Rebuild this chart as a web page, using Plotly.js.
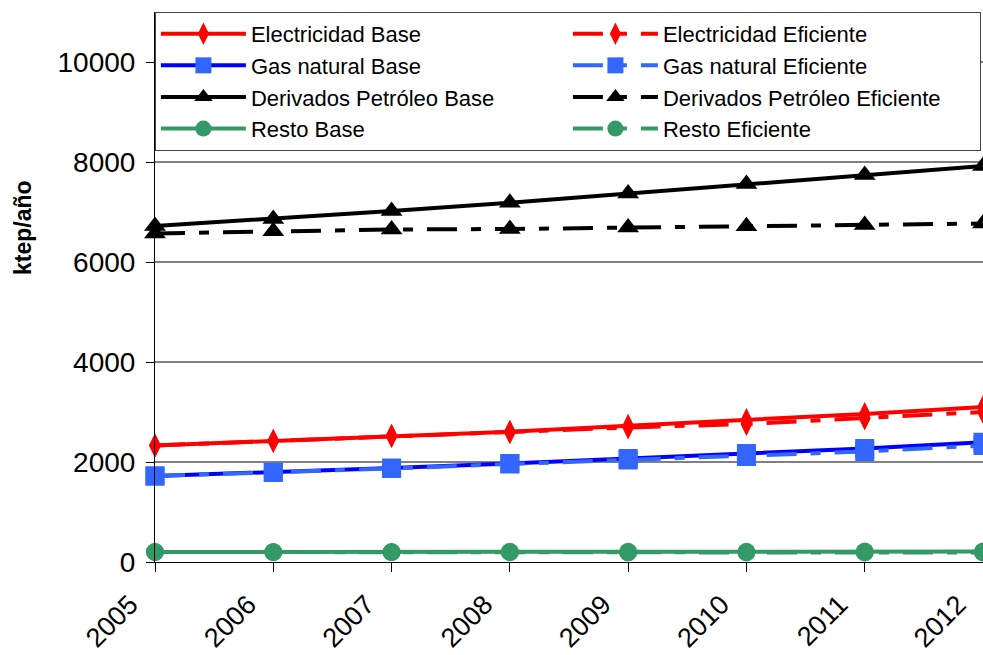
<!DOCTYPE html>
<html>
<head>
<meta charset="utf-8">
<script src="https://cdn.plot.ly/plotly-3.0.1.min.js"></script>
<style>html,body{margin:0;padding:0;background:#fff;}#chart{width:983px;height:655px;}</style>
</head>
<body>
<div id="chart"></div>
<script>
const years = [2005, 2006, 2007, 2008, 2009, 2010, 2011, 2012];
const yearLabels = ['2005', '2006', '2007', '2008', '2009', '2010', '2011', '2012'];
const elecBase = [2330, 2425, 2525, 2605, 2725, 2840, 2960, 3100];
const elecEf   = [2330, 2420, 2520, 2595, 2690, 2760, 2870, 3000];
const gasBase  = [1720, 1795, 1880, 1970, 2070, 2170, 2270, 2395];
const gasEf    = [1720, 1790, 1870, 1960, 2040, 2110, 2210, 2330];
const derBase  = [6720, 6860, 7020, 7185, 7370, 7560, 7740, 7920];
const derEf    = [6570, 6615, 6650, 6660, 6690, 6715, 6740, 6770];
const restoBase = [200, 200, 200, 205, 205, 205, 210, 210];
const restoEf   = [200, 195, 195, 195, 190, 190, 190, 190];
const yTicks = [0, 2000, 4000, 6000, 8000, 10000];

const dashEf = "30px,14px,10px,14px";
function tr(name, y, lineColor, markerColor, symbol, size, dash) {
  return {
    x: years, y: y, name: name, type: 'scatter', mode: 'lines+markers',
    line: {color: lineColor, width: 4, dash: dash || 'solid'},
    marker: {color: markerColor, symbol: symbol, size: size, line: {width: 0}},
    cliponaxis: false
  };
}
const data = [
  tr('Electricidad Base', elecBase, '#FF0000', '#FF0000', 'diamond-tall', 17),
  tr('Electricidad Eficiente', elecEf, '#FF0000', '#FF0000', 'diamond-tall', 17, dashEf),
  tr('Gas natural Base', gasBase, '#0000FF', '#3366FF', 'square', 19),
  tr('Gas natural Eficiente', gasEf, '#3366FF', '#3366FF', 'square', 19, dashEf),
  tr('Derivados Petróleo Base', derBase, '#000000', '#000000', 'triangle-up', 19),
  tr('Derivados Petróleo Eficiente', derEf, '#000000', '#000000', 'triangle-up', 19, dashEf),
  tr('Resto Base', restoBase, '#339966', '#339966', 'circle', 18),
  tr('Resto Eficiente', restoEf, '#339966', '#339966', 'circle', 18, dashEf)
];
const layout = {
  width: 983, height: 655,
  margin: {l: 155, r: 0, t: 12, b: 93},
  paper_bgcolor: '#fff', plot_bgcolor: '#fff',
  font: {family: 'Liberation Sans, Arial, sans-serif', color: '#000'},
  showlegend: true,
  legend: {
    orientation: 'h', x: -0.0001, y: 1.0001, xanchor: 'left', yanchor: 'top',
    bgcolor: '#fff', bordercolor: '#444', borderwidth: 1,
    font: {size: 22, color: '#000'},
    itemwidth: 85, entrywidth: 312, entrywidthmode: 'pixels',
    traceorder: 'normal', tracegroupgap: 0
  },
  xaxis: {
    range: [2005, 2012], tickvals: years, ticktext: yearLabels,
    tickangle: -45, tickfont: {size: 27},
    ticklabelshift: -25, ticklabelstandoff: 6, ticklabeloverflow: 'allow',
    ticks: 'outside', ticklen: 9, tickcolor: '#000',
    showline: true, linecolor: '#000', linewidth: 1,
    showgrid: false, zeroline: false, fixedrange: true
  },
  yaxis: {
    range: [0, 11000], tickvals: yTicks, ticktext: yTicks.map(String),
    tickfont: {size: 28}, ticklabelstandoff: 5,
    ticks: 'outside', ticklen: 8, tickcolor: '#000',
    showline: true, linecolor: '#000', linewidth: 1,
    showgrid: true, gridcolor: '#808080', gridwidth: 1.5,
    zeroline: false, fixedrange: true
  },
  annotations: [{
    text: '<b>ktep/año</b>', textangle: -90, showarrow: false,
    xref: 'paper', yref: 'paper',
    x: (23 - 155) / 828, y: (562 - 228) / 550,
    xanchor: 'center', yanchor: 'middle',
    font: {size: 23, color: '#000'}
  }]
};
Plotly.newPlot('chart', data, layout, {displayModeBar: false, staticPlot: true});
</script>
</body>
</html>
